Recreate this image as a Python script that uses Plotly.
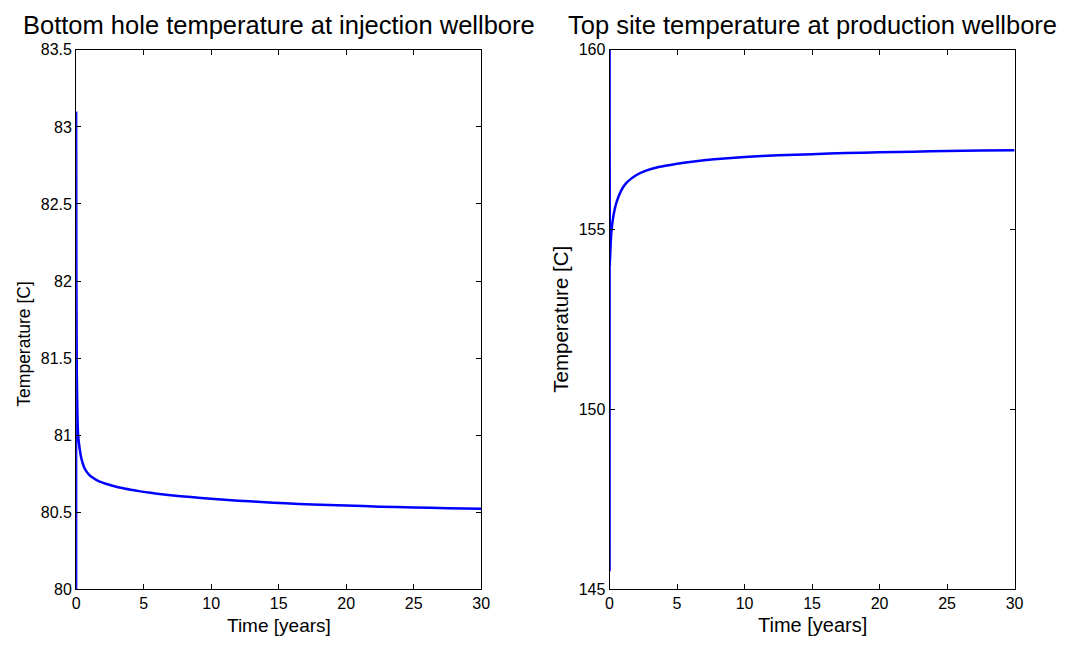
import plotly.graph_objects as go
from plotly.subplots import make_subplots

# Injection wellbore bottom-hole temperature
time_inj = [0, 0.002, 0.02, 0.05, 0.1, 0.15, 0.25, 0.4, 0.6, 0.8, 1.0, 1.3, 1.7, 2.2, 2.7, 3.5, 4.3, 5,
            6, 7, 8.5, 10, 12, 13.7, 15.5, 17.5, 20, 22.5, 25, 27.5, 30]
temp_inj = [80.0, 83.1, 82.0, 81.4, 81.12, 81.0, 80.92, 80.845, 80.79, 80.76, 80.74, 80.72, 80.70, 80.685,
            80.672, 80.655, 80.642, 80.632, 80.62, 80.61, 80.598, 80.588, 80.575, 80.566, 80.558, 80.55,
            80.543, 80.536, 80.531, 80.526, 80.522]

# Production wellbore top-site temperature
time_prod = [0, 0.002, 0.02, 0.08, 0.15, 0.27, 0.4, 0.55, 0.75, 1.0, 1.25, 1.6, 2.0, 2.7, 3.5, 4.5, 5.5,
             7, 8.5, 10, 12.5, 15, 17.5, 20, 22.5, 25, 27.5, 30]
temp_prod = [145.5, 160.5, 154.0, 154.6, 155.0, 155.35, 155.6, 155.8, 156.0, 156.18, 156.3, 156.42, 156.52,
             156.64, 156.73, 156.8, 156.86, 156.93, 156.98, 157.02, 157.07, 157.1, 157.13, 157.15, 157.17,
             157.19, 157.2, 157.21]

x_ticks = [0, 5, 10, 15, 20, 25, 30]
y_ticks_inj = [80, 80.5, 81, 81.5, 82, 82.5, 83, 83.5]
y_ticks_prod = [145, 150, 155, 160]

titles = ["Bottom hole temperature at injection wellbore", "Top site temperature at production wellbore"]

W, H = 1072, 645
FONT = "Liberation Sans, Arial, sans-serif"

fig = make_subplots(rows=1, cols=2)
fig.add_trace(go.Scatter(x=time_inj, y=temp_inj, mode="lines",
                         line=dict(color="#0000ff", width=2.5, shape="spline", smoothing=0.4),
                         showlegend=False), row=1, col=1)
fig.add_trace(go.Scatter(x=time_prod, y=temp_prod, mode="lines",
                         line=dict(color="#0000ff", width=2.5, shape="spline", smoothing=0.4),
                         showlegend=False), row=1, col=2)

ydom = [(H - 597) / H, (H - 43) / H]
xdom1 = [73 / W, 483 / W]
xdom2 = [613 / W, 1023 / W]

axis_common = dict(showgrid=False, zeroline=False, showline=True, linecolor="black", linewidth=1,
                   mirror="allticks", ticks="inside", ticklen=5, tickcolor="black",
                   tickfont=dict(family=FONT, size=16, color="black"))

fig.update_xaxes(**axis_common, range=[0, 30], tickvals=x_ticks, ticktext=[str(v) for v in x_ticks])
fig.update_xaxes(domain=xdom1, row=1, col=1)
fig.update_xaxes(domain=xdom2, row=1, col=2)
fig.update_yaxes(**axis_common, domain=ydom)
fig.update_yaxes(range=[80, 83.5], tickvals=y_ticks_inj, ticktext=[f"{v:g}" for v in y_ticks_inj], row=1, col=1)
fig.update_yaxes(range=[145, 160], tickvals=y_ticks_prod, ticktext=[str(v) for v in y_ticks_prod], row=1, col=2)

ann = []
for dom, t in zip([xdom1, xdom2], titles):
    ann.append(dict(text=t, x=(dom[0] + dom[1]) / 2, y=(H - 17) / H, xref="paper", yref="paper",
                    xanchor="center", yanchor="middle", showarrow=False,
                    font=dict(family=FONT, size=25.5, color="black")))
ann.append(dict(text="Time [years]", x=(xdom1[0] + xdom1[1]) / 2, y=(H - 634) / H, xref="paper", yref="paper",
                xanchor="center", yanchor="middle", showarrow=False,
                font=dict(family=FONT, size=19, color="black")))
ann.append(dict(text="Time [years]", x=(xdom2[0] + xdom2[1]) / 2, y=(H - 634) / H, xref="paper", yref="paper",
                xanchor="center", yanchor="middle", showarrow=False,
                font=dict(family=FONT, size=20, color="black")))
ann.append(dict(text="Temperature [C]", x=20 / W, y=(H - 345) / H, xref="paper", yref="paper",
                xanchor="center", yanchor="middle", showarrow=False, textangle=-90,
                font=dict(family=FONT, size=17.5, color="black")))
ann.append(dict(text="Temperature [C]", x=563 / W, y=(H - 320) / H, xref="paper", yref="paper",
                xanchor="center", yanchor="middle", showarrow=False, textangle=-90,
                font=dict(family=FONT, size=20.5, color="black")))

fig.update_layout(width=W, height=H, margin=dict(l=0, r=0, t=0, b=0),
                  paper_bgcolor="white", plot_bgcolor="white", annotations=ann,
                  font=dict(family=FONT, color="black"))

fig.write_html("out.html")
